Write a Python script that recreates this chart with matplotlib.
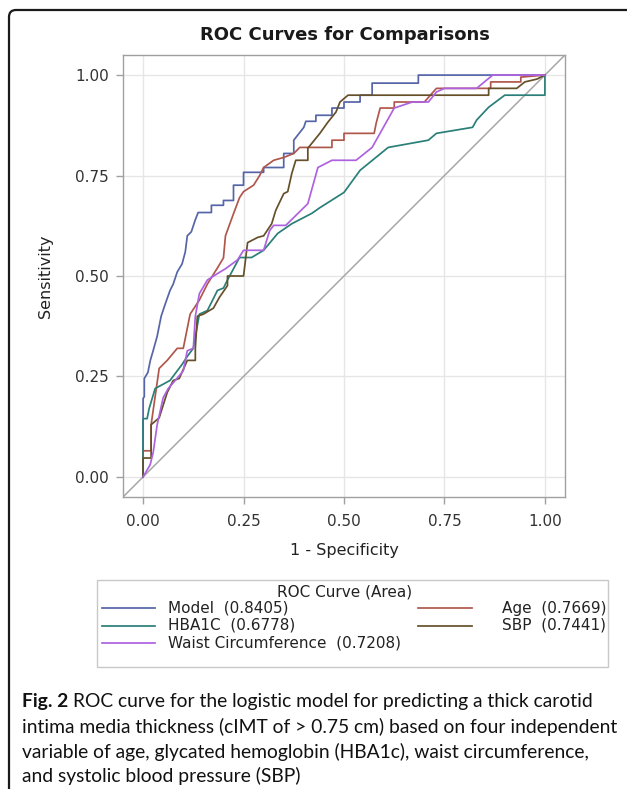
import matplotlib
matplotlib.use("Agg")
import matplotlib.pyplot as plt
from matplotlib.patches import FancyBboxPatch, Rectangle
from matplotlib.lines import Line2D
from matplotlib.transforms import IdentityTransform

# ROC curve vertices (1 - specificity, sensitivity)
model_pts = [(0, 0), (0, 0.195), (0.003, 0.2), (0.003, 0.245), (0.012, 0.26), (0.018, 0.29),
             (0.025, 0.314), (0.035, 0.35), (0.045, 0.40), (0.055, 0.43), (0.067, 0.464),
             (0.075, 0.48), (0.085, 0.51), (0.097, 0.53), (0.105, 0.56), (0.11, 0.60),
             (0.12, 0.61), (0.13, 0.64), (0.137, 0.658), (0.17, 0.658), (0.17, 0.676),
             (0.2, 0.676), (0.2, 0.688), (0.225, 0.688), (0.225, 0.726), (0.25, 0.726),
             (0.25, 0.758), (0.3, 0.758), (0.3, 0.77), (0.35, 0.77), (0.35, 0.805),
             (0.375, 0.805), (0.375, 0.838), (0.40, 0.87), (0.405, 0.885), (0.43, 0.885),
             (0.43, 0.90), (0.47, 0.90), (0.47, 0.918), (0.50, 0.918), (0.50, 0.933),
             (0.54, 0.933), (0.54, 0.95), (0.57, 0.95), (0.57, 0.98), (0.685, 0.98),
             (0.685, 1.0), (1.0, 1.0)]

age_pts = [(0, 0), (0, 0.065), (0.02, 0.065), (0.02, 0.13), (0.03, 0.2), (0.04, 0.27),
           (0.06, 0.29), (0.085, 0.32), (0.1, 0.32), (0.117, 0.405), (0.14, 0.44),
           (0.16, 0.48), (0.185, 0.52), (0.2, 0.545), (0.205, 0.6), (0.225, 0.655),
           (0.24, 0.695), (0.25, 0.71), (0.275, 0.726), (0.29, 0.75), (0.30, 0.77),
           (0.325, 0.788), (0.35, 0.795), (0.375, 0.805), (0.39, 0.82), (0.47, 0.82),
           (0.47, 0.838), (0.50, 0.838), (0.50, 0.855), (0.575, 0.855), (0.58, 0.88),
           (0.59, 0.918), (0.625, 0.918), (0.625, 0.933), (0.70, 0.933), (0.73, 0.967),
           (0.865, 0.967), (0.865, 0.983), (0.94, 0.983), (0.94, 0.995), (1.0, 1.0)]

hba1c_pts = [(0, 0), (0, 0.145), (0.01, 0.145), (0.015, 0.17), (0.03, 0.22), (0.067, 0.24),
             (0.097, 0.28), (0.11, 0.30), (0.125, 0.32), (0.14, 0.405), (0.16, 0.414),
             (0.185, 0.464), (0.2, 0.47), (0.21, 0.49), (0.24, 0.546), (0.27, 0.546),
             (0.30, 0.564), (0.335, 0.606), (0.37, 0.63), (0.42, 0.656), (0.44, 0.67),
             (0.50, 0.708), (0.54, 0.763), (0.61, 0.82), (0.71, 0.838), (0.73, 0.855),
             (0.82, 0.87), (0.83, 0.888), (0.86, 0.92), (0.90, 0.95), (1.0, 0.95), (1.0, 1.0)]

sbp_pts = [(0, 0), (0, 0.047), (0.02, 0.047), (0.02, 0.13), (0.04, 0.147), (0.06, 0.21),
           (0.075, 0.24), (0.09, 0.245), (0.11, 0.29), (0.13, 0.29), (0.13, 0.32),
           (0.135, 0.40), (0.15, 0.405), (0.175, 0.42), (0.19, 0.447), (0.21, 0.476),
           (0.21, 0.5), (0.25, 0.5), (0.26, 0.583), (0.285, 0.596), (0.30, 0.60),
           (0.32, 0.63), (0.33, 0.663), (0.35, 0.705), (0.36, 0.71), (0.37, 0.755),
           (0.38, 0.788), (0.41, 0.788), (0.41, 0.818), (0.44, 0.855), (0.46, 0.883),
           (0.48, 0.908), (0.49, 0.933), (0.51, 0.95), (0.86, 0.95), (0.86, 0.967),
           (0.93, 0.967), (0.95, 0.983), (0.98, 0.99), (1.0, 1.0)]

waist_pts = [(0, 0), (0.0175, 0.03), (0.025, 0.06), (0.035, 0.13), (0.05, 0.197),
             (0.0625, 0.22), (0.08, 0.24), (0.1, 0.264), (0.11, 0.314), (0.125, 0.32),
             (0.13, 0.40), (0.14, 0.456), (0.16, 0.49), (0.185, 0.506), (0.205, 0.518),
             (0.235, 0.54), (0.25, 0.564), (0.30, 0.564), (0.315, 0.613), (0.325, 0.626),
             (0.355, 0.626), (0.41, 0.68), (0.435, 0.77), (0.47, 0.788), (0.53, 0.788),
             (0.57, 0.82), (0.625, 0.918), (0.67, 0.933), (0.71, 0.933), (0.73, 0.958),
             (0.75, 0.967), (0.83, 0.967), (0.87, 1.0), (1.0, 1.0)]

curve_names = ["Model", "Age", "HBA1C", "SBP", "Waist Circumference"]
curve_areas = [0.8405, 0.7669, 0.6778, 0.7441, 0.7208]
curve_data = [model_pts, age_pts, hba1c_pts, sbp_pts, waist_pts]
curve_colors = ["#5565a8", "#b0574c", "#2a7f78", "#66502a", "#ae62e0"]

ticks = [0.0, 0.25, 0.5, 0.75, 1.0]

W, H = 627, 789
fig = plt.figure(figsize=(W / 100, H / 100), dpi=100)


def fx(px):
    return px / W


def fy(py):
    return 1 - py / H


# outer rounded frame (right and bottom run off the image)
frame = FancyBboxPatch((9, -40), 700, H - 10 + 40, boxstyle="round,pad=0,rounding_size=7",
                       transform=IdentityTransform(), fill=False, ec="#1a1a1a", lw=1.6)
fig.patches.append(frame)

ax = fig.add_axes([fx(123), fy(497), (565 - 123) / W, (497 - 55) / H])
ax.set_xlim(-0.05, 1.05)
ax.set_ylim(-0.05, 1.05)
ax.plot([-0.05, 1.05], [-0.05, 1.05], color="#a8a8a8", lw=1.1, zorder=2)

for name, area, pts, col in zip(curve_names, curve_areas, curve_data, curve_colors):
    xs = [p[0] for p in pts]
    ys = [p[1] for p in pts]
    ax.plot(xs, ys, color=col, lw=1.25, zorder=3)

ax.set_xticks(ticks)
ax.set_yticks(ticks)
ax.set_xticklabels([f"{t:.2f}" for t in ticks])
ax.set_yticklabels([f"{t:.2f}" for t in ticks])
ax.grid(True, color="#e6e6e6", lw=1.0)
ax.set_axisbelow(True)
for s in ax.spines.values():
    s.set_color("#a0a0a0")
    s.set_linewidth(1.0)
ax.tick_params(axis="both", colors="#a0a0a0", labelcolor="#333333", labelsize=11,
               length=5, width=1.0)
ax.tick_params(axis="x", pad=7)
ax.tick_params(axis="y", pad=5)

fig.text(fx(345), fy(35), "ROC Curves for Comparisons", ha="center", va="center",
         fontsize=13, fontweight="bold", color="#1a1a1a")
fig.text(fx(45), fy(276), "Sensitivity", ha="center", va="center", rotation=90,
         fontsize=11.5, color="#222222")
fig.text(fx(344), fy(551), "1 - Specificity", ha="center", va="center",
         fontsize=11.5, color="#222222")

# legend box: two columns, same layout as the SAS output
fig.patches.append(Rectangle((fx(97), fy(667)), (608 - 97) / W, (667 - 580) / H,
                             transform=fig.transFigure, fill=False, ec="#c8c8c8", lw=1.0))
fig.text(fx(345), fy(592), "ROC Curve (Area)", ha="center", va="center", fontsize=11,
         color="#222222")
# (line start, line end, text x, text alignment, row y) in pixels
leg_slots = {"Model": (102, 155, 168, "left", 608),
             "HBA1C": (102, 155, 168, "left", 625.5),
             "Waist Circumference": (102, 155, 168, "left", 643),
             "Age": (418, 472, 606, "right", 608),
             "SBP": (418, 472, 606, "right", 625.5)}
for name, area, col in zip(curve_names, curve_areas, curve_colors):
    x0, x1, tx, ha, y = leg_slots[name]
    fig.lines.append(Line2D([fx(x0), fx(x1)], [fy(y), fy(y)], transform=fig.transFigure,
                            color=col, lw=1.25))
    fig.text(fx(tx), fy(y), f"{name}  ({area:.4f})", ha=ha, va="center",
             fontsize=11, color="#222222")

# caption
cap_font = "Lato"
cap_size = 13.9
r = fig.canvas.get_renderer()
t0 = fig.text(fx(22), fy(702), "Fig. 2", ha="left", va="center", fontsize=cap_size,
              fontweight="bold", family=cap_font, color="#111111")
bb = t0.get_window_extent(renderer=r)
fig.text((bb.x1 + 5) / W, fy(702),
         "ROC curve for the logistic model for predicting a thick carotid",
         ha="left", va="center", fontsize=cap_size, family=cap_font, color="#111111")
cap_lines = ["intima media thickness (cIMT of > 0.75 cm) based on four independent",
             "variable of age, glycated hemoglobin (HBA1c), waist circumference,",
             "and systolic blood pressure (SBP)"]
for i, line in enumerate(cap_lines):
    fig.text(fx(22), fy(727 + 24.7 * i), line, ha="left", va="center",
             fontsize=cap_size, family=cap_font, color="#111111")

fig.savefig("out.png", dpi=100)
